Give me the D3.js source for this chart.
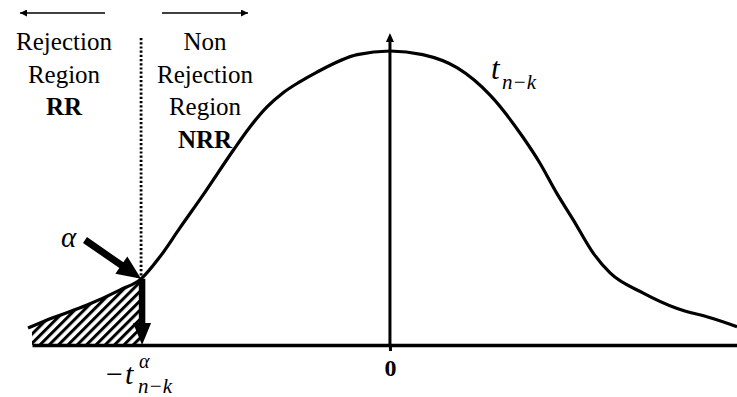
<!DOCTYPE html>
<html>
<head>
<meta charset="utf-8">
<script src="https://cdn.jsdelivr.net/npm/d3@7"></script>
<style>
  html, body { margin: 0; padding: 0; background: #fff; }
  svg { display: block; }
</style>
</head>
<body>
<svg id="chart" width="737" height="397"></svg>
<script>
// t-distribution curve (t value, density)
const curveT = [-3.65, -3.40, -3.06, -2.72, -2.51, -2.32, -2.12, -1.87, -1.58, -1.41, -1.24, -1.08, -0.91, -0.74, -0.33, 0,
                0.33, 0.68, 1.01, 1.34, 1.51, 1.68, 1.85, 2.05, 2.22, 2.55, 2.89, 3.23, 3.50];
const curveDensity = [0.023, 0.037, 0.054, 0.075, 0.090, 0.120, 0.159, 0.207, 0.265, 0.297, 0.324, 0.343, 0.358, 0.371, 0.395, 0.400,
                      0.395, 0.377, 0.340, 0.283, 0.248, 0.207, 0.170, 0.125, 0.098, 0.071, 0.050, 0.037, 0.025];
// critical value -t(alpha, n-k)
const critT = -2.51;
const tickValues = [0];
const tickLabels = ["0"];

const SERIF = "Liberation Serif";

const svg = d3.select("#chart").attr("font-family", SERIF);
const x = d3.scaleLinear().domain([-3.61, 3.5]).range([32, 737]);
const y = d3.scaleLinear().domain([0, 0.4]).range([345, 51]);

const pts = curveT.map((t, i) => ({ t, d: curveDensity[i] }));
const crit = pts.find(p => p.t === critT);
const cx = x(critT), cy = y(crit.d);

// hatch pattern for the rejection region
const defs = svg.append("defs");
defs.append("pattern")
  .attr("id", "hatch")
  .attr("patternUnits", "userSpaceOnUse")
  .attr("width", 6.6).attr("height", 6.6)
  .attr("patternTransform", "rotate(45)")
  .append("rect").attr("x", 0).attr("y", 0).attr("width", 3).attr("height", 6.6).attr("fill", "#000");

defs.append("clipPath").attr("id", "rrClip")
  .append("rect").attr("x", x.range()[0]).attr("y", 0)
  .attr("width", cx - x.range()[0]).attr("height", y(0));

defs.append("marker")
  .attr("id", "thinHead")
  .attr("viewBox", "0 0 10 10").attr("refX", 10).attr("refY", 5)
  .attr("markerWidth", 9).attr("markerHeight", 7).attr("markerUnits", "userSpaceOnUse")
  .attr("orient", "auto")
  .append("path").attr("d", "M0,0 L10,5 L0,10 Z").attr("fill", "#000");

const curveType = d3.curveMonotoneX;

// rejection region area
const area = d3.area()
  .x(p => x(p.t)).y0(y(0)).y1(p => y(p.d))
  .curve(curveType);
svg.append("path")
  .datum(pts.filter(p => p.t <= critT))
  .attr("d", area)
  .attr("clip-path", "url(#rrClip)")
  .attr("fill", "url(#hatch)");

// dotted boundary between regions
svg.append("line")
  .attr("x1", cx).attr("x2", cx)
  .attr("y1", 38).attr("y2", cy)
  .attr("stroke", "#000").attr("stroke-width", 2.8)
  .attr("stroke-dasharray", "2.2,2");

// density curve
const line = d3.line().x(p => x(p.t)).y(p => y(p.d)).curve(curveType);
svg.append("path")
  .datum(pts)
  .attr("d", line)
  .attr("fill", "none").attr("stroke", "#000").attr("stroke-width", 3.2);

// x axis
const xAxis = d3.axisBottom(x).tickValues(tickValues).tickFormat((d, i) => tickLabels[i])
  .tickSize(6).tickSizeOuter(0).tickPadding(8);
const gx = svg.append("g").attr("transform", `translate(0,${y(0)})`).call(xAxis);
gx.select(".domain").attr("stroke", "#000").attr("stroke-width", 3.4);
gx.selectAll(".tick line").attr("stroke", "#000").attr("stroke-width", 3);
gx.selectAll(".tick text")
  .attr("fill", "#000")
  .attr("font-family", SERIF).attr("font-size", 24).attr("font-weight", "bold")
  .style("font-size", "24px").style("font-weight", "bold");

// y axis (vertical line with arrow)
svg.append("line")
  .attr("x1", x(0)).attr("x2", x(0))
  .attr("y1", y(0)).attr("y2", 40)
  .attr("stroke", "#000").attr("stroke-width", 3);
svg.append("path")
  .attr("d", `M${x(0)},33 L${x(0) + 4},42 L${x(0) - 4},42 Z`)
  .attr("fill", "#000");

// thick block arrow helper
function blockArrow(x1, y1, x2, y2, shaft, headLen, headW) {
  const dx = x2 - x1, dy = y2 - y1, L = Math.hypot(dx, dy);
  const ux = dx / L, uy = dy / L, nx = -uy, ny = ux;
  const bx = x2 - ux * headLen, by = y2 - uy * headLen;
  const p = [
    [x1 + nx * shaft / 2, y1 + ny * shaft / 2],
    [bx + nx * shaft / 2, by + ny * shaft / 2],
    [bx + nx * headW / 2, by + ny * headW / 2],
    [x2, y2],
    [bx - nx * headW / 2, by - ny * headW / 2],
    [bx - nx * shaft / 2, by - ny * shaft / 2],
    [x1 - nx * shaft / 2, y1 - ny * shaft / 2]
  ];
  svg.append("path").attr("d", "M" + p.map(q => q.join(",")).join("L") + "Z").attr("fill", "#000");
}
blockArrow(85, 240, cx, cy, 7, 24, 21);
blockArrow(cx + 1, cy, cx + 1, y(0), 6.5, 22, 18);

// region direction arrows
svg.append("line").attr("x1", 105).attr("y1", 13).attr("x2", 20).attr("y2", 13)
  .attr("stroke", "#000").attr("stroke-width", 1.5).attr("marker-end", "url(#thinHead)");
svg.append("line").attr("x1", 162).attr("y1", 13).attr("x2", 248).attr("y2", 13)
  .attr("stroke", "#000").attr("stroke-width", 1.5).attr("marker-end", "url(#thinHead)");

function txt(xp, yp, size, s, opts = {}) {
  return svg.append("text")
    .attr("x", xp).attr("y", yp)
    .attr("text-anchor", opts.anchor || "start")
    .attr("font-family", SERIF)
    .attr("font-size", size)
    .attr("font-weight", opts.bold ? "bold" : "normal")
    .attr("font-style", opts.italic ? "italic" : "normal")
    .attr("fill", "#000")
    .text(s);
}

// region labels
function label(lines, cxPos, y0, dy) {
  lines.forEach((l, i) => txt(cxPos, y0 + i * dy, 25, l.text, { anchor: "middle", bold: l.bold }));
}
label([{ text: "Rejection" }, { text: "Region" }, { text: "RR", bold: true }], 64, 50, 32.7);
label([{ text: "Non" }, { text: "Rejection" }, { text: "Region" }, { text: "NRR", bold: true }], 205, 50, 32.7);

// t(n-k) curve label
txt(491, 79, 31, "t", { italic: true });
txt(502, 89, 21, "n−k", { italic: true });

// alpha label
txt(61, 247, 29, "α", { italic: true });

// critical value label
txt(106, 384, 30, "−");
txt(125, 384, 30, "t", { italic: true });
txt(139, 368, 20, "α", { italic: true });
txt(138, 393, 21, "n−k", { italic: true });
</script>
</body>
</html>
